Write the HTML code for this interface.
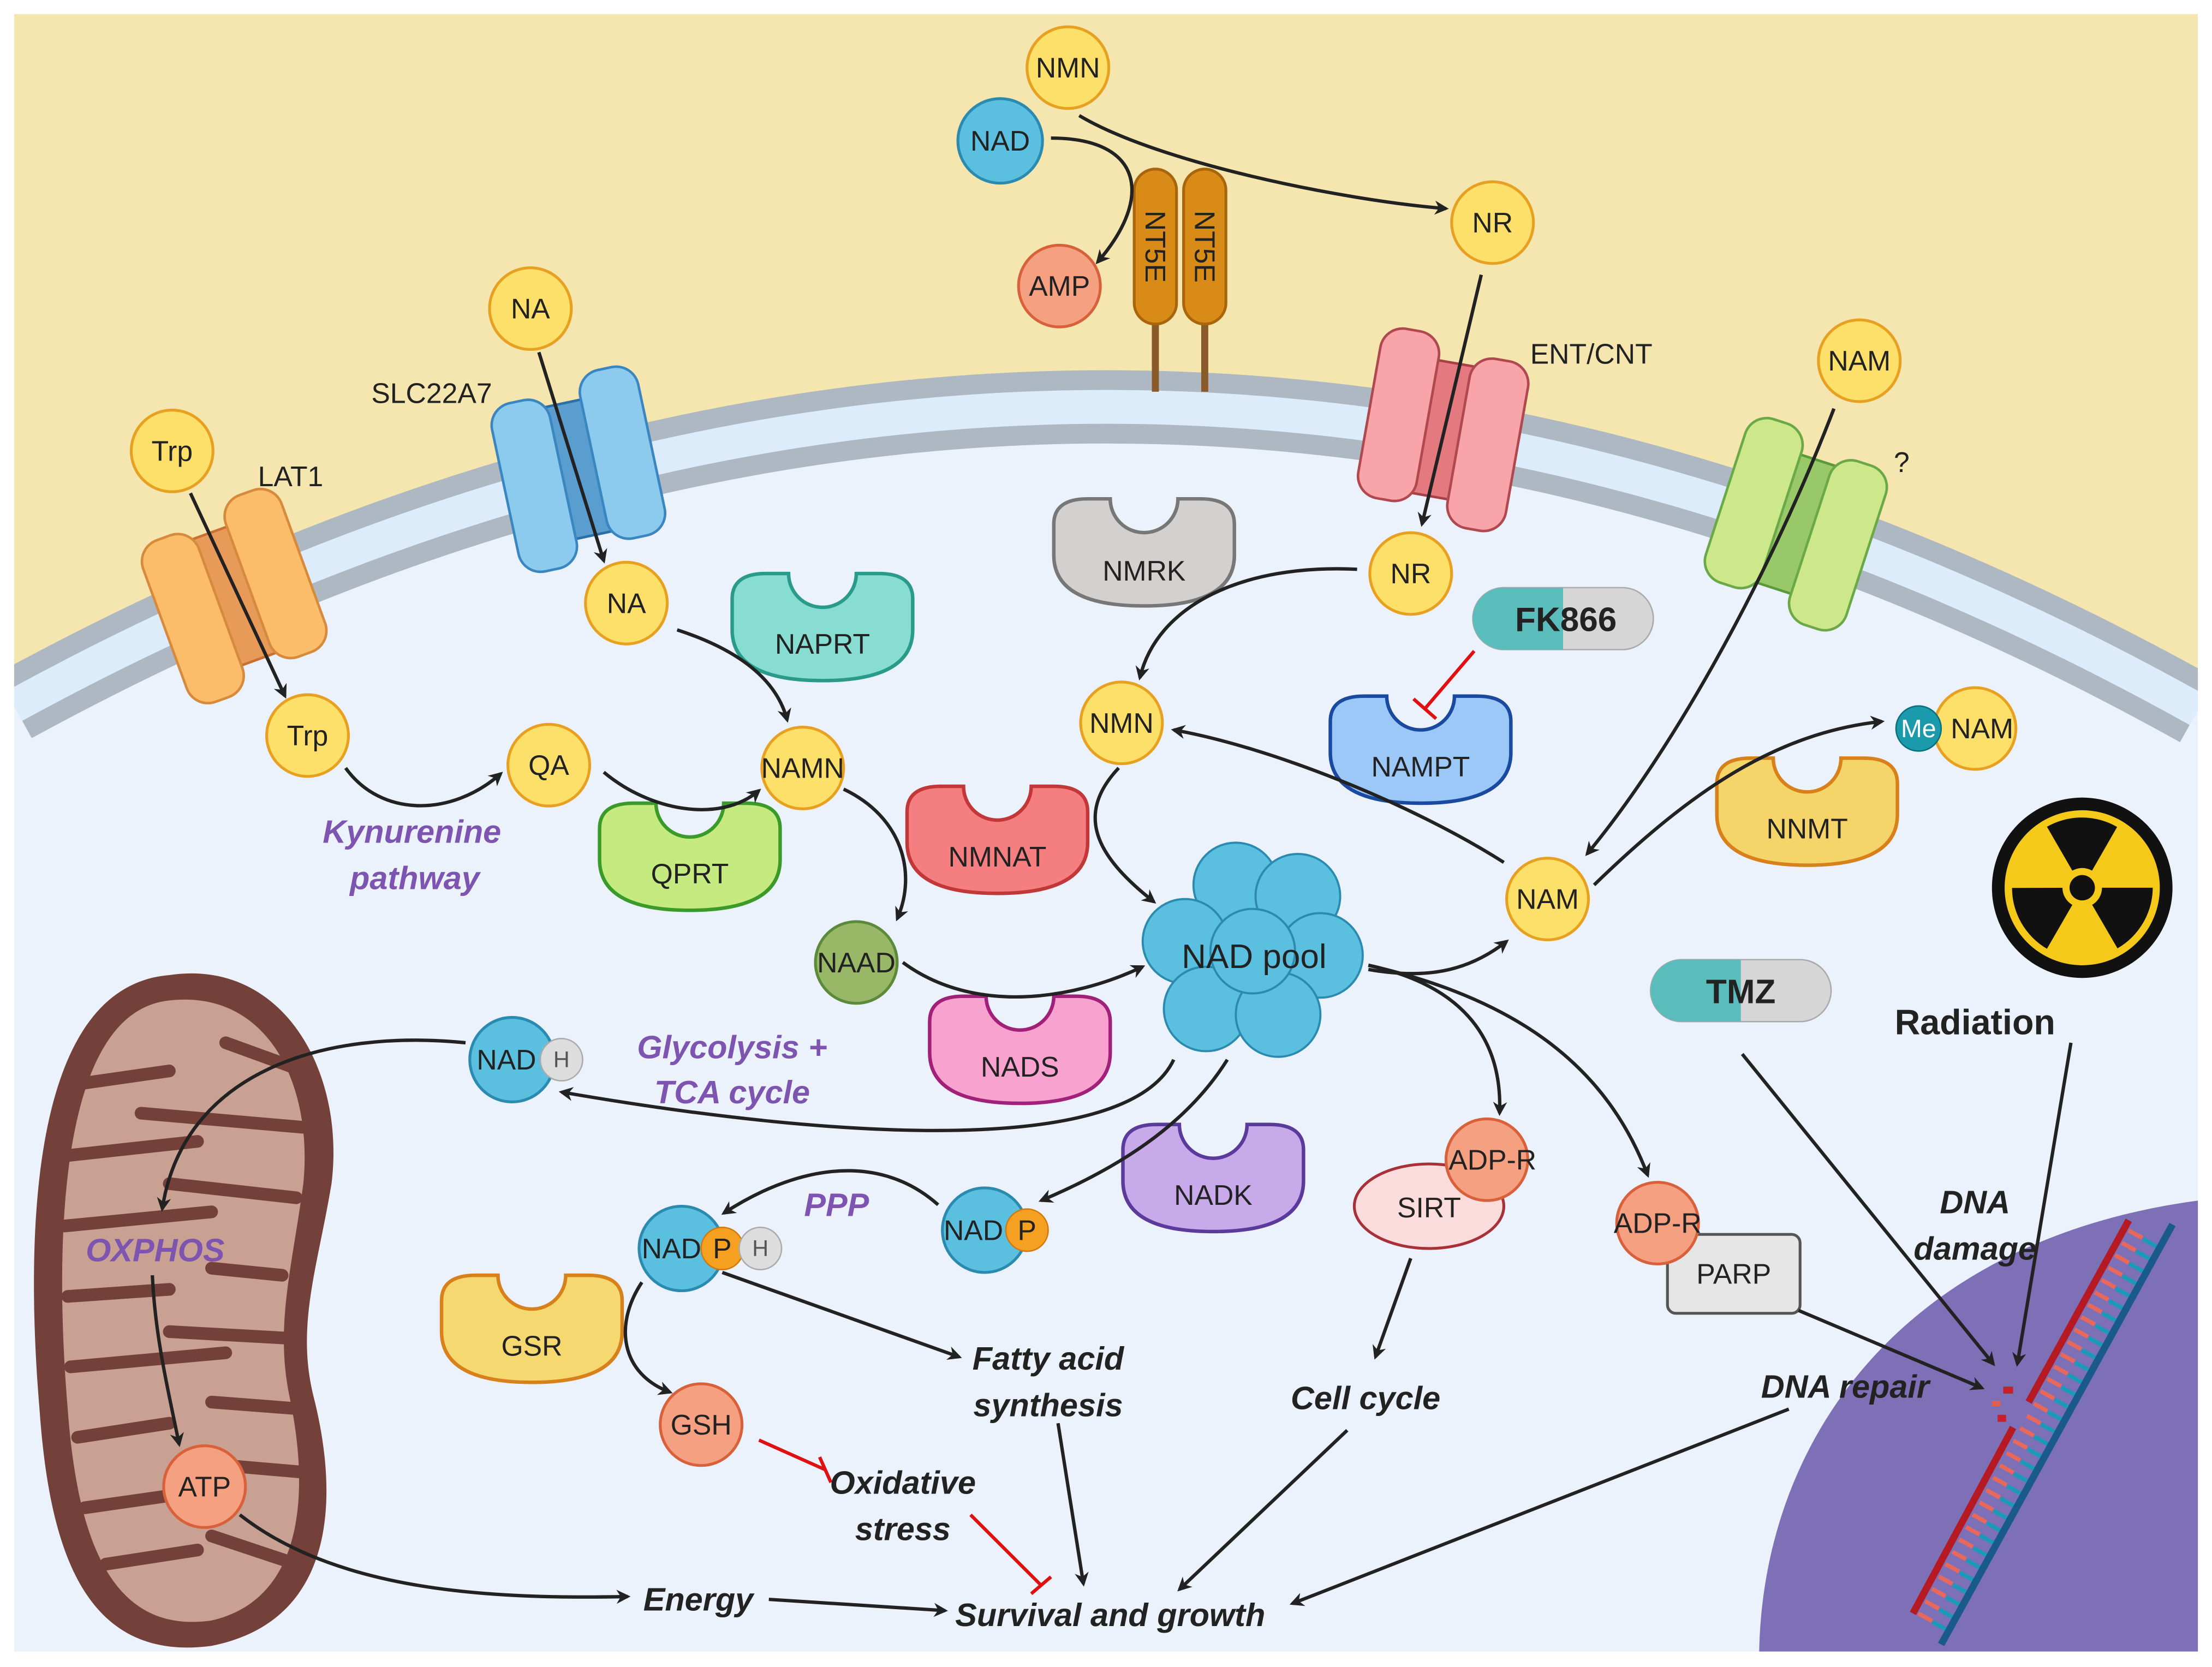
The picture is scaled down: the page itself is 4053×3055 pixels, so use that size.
<!DOCTYPE html>
<html><head><meta charset="utf-8"><style>
html,body{margin:0;padding:0;background:#fff;overflow:hidden;width:4053px;height:3055px}
svg{display:block}
text{font-family:"Liberation Sans",sans-serif}
.m{font-size:20px;text-anchor:middle;dominant-baseline:central;fill:#222}
.e{font-size:20px;text-anchor:middle;fill:#222}
.pu{font-size:23px;font-style:italic;font-weight:bold;fill:#7d55b0;text-anchor:middle}
.bk{font-size:23px;font-style:italic;font-weight:bold;fill:#222;text-anchor:middle}
.ar{fill:none;stroke:#222;stroke-width:2.4;marker-end:url(#ah)}
.in{fill:none;stroke:#e01010;stroke-width:2.4}
</style></head><body>
<svg width="4053" height="3055" viewBox="0 0 1568 1183" preserveAspectRatio="none" xmlns="http://www.w3.org/2000/svg">
<defs>
<marker id="ah" markerWidth="10" markerHeight="10" refX="8" refY="5" orient="auto" markerUnits="userSpaceOnUse"><path d="M0,0 L10,5 L0,10 L3,5 Z" fill="#222"/></marker>
<path id="cup" d="M-64,-20 Q-64,-38 -40,-38 L-24,-38 A24,24 0 0 0 24,-38 L40,-38 Q64,-38 64,-20 L64,2 Q64,38 0,38 Q-64,38 -64,2 Z"/>
</defs>
<rect x="0" y="0" width="1568" height="1183" fill="#fff"/>
<rect x="10" y="10" width="1548" height="1162" fill="#f4e6ae"/>
<path d="M10,501 Q790,75 1558,504 L1558,1172 L10,1172 Z" fill="#ecf2fb"/>
<path d="M10,501 Q790,75 1558,504" fill="none" stroke="#aeb8c2" stroke-width="52"/>
<path d="M10,501 Q790,75 1558,504" fill="none" stroke="#dcecfb" stroke-width="24"/>
<rect x="0" y="0" width="10" height="1183" fill="#fff"/><rect x="1558" y="0" width="10" height="1183" fill="#fff"/>
<!-- nucleus -->
<path d="M1247,1172 C1250,1020 1350,880 1558,852 L1558,1172 Z" fill="#7d70b6"/>
<!-- DNA -->
<line x1="1364" y1="1149" x2="1517" y2="870" stroke="#e8685c" stroke-width="11" stroke-dasharray="3,7"/>
<line x1="1374" y1="1155" x2="1527" y2="876" stroke="#1a9ab8" stroke-width="11" stroke-dasharray="3,7"/>
<line x1="1356" y1="1145" x2="1427" y2="1013" stroke="#b51a22" stroke-width="5"/>
<line x1="1438" y1="995" x2="1509" y2="866" stroke="#b51a22" stroke-width="5"/>
<line x1="1376" y1="1167" x2="1540" y2="869" stroke="#1a5a8a" stroke-width="5"/>
<rect x="1420" y="984" width="7" height="5" fill="#c8202a"/><rect x="1416" y="1004" width="6" height="5" fill="#c8202a"/><rect x="1412" y="994" width="6" height="4" fill="#e06050"/>
<!-- mitochondrion -->
<path d="M120,692 C200,680 245,760 235,840 C225,900 210,940 222,990 C240,1060 240,1150 150,1168 C60,1180 35,1100 28,1000 C18,880 20,700 120,692 Z" fill="#74413a"/>
<path d="M120,710 C190,702 222,770 215,840 C207,900 195,940 205,990 C220,1060 215,1135 150,1150 C80,1160 55,1095 48,1000 C38,880 42,718 120,710 Z" fill="#c9a193"/>
<g stroke="#74413a" stroke-width="9" stroke-linecap="round" fill="none">
<path d="M50,770 L120,760"/><path d="M160,740 L215,760"/><path d="M48,820 L140,810"/><path d="M100,790 L215,800"/>
<path d="M46,870 L150,860"/><path d="M120,840 L210,850"/><path d="M48,920 L120,915"/><path d="M150,900 L200,905"/>
<path d="M50,970 L160,960"/><path d="M120,945 L210,950"/><path d="M55,1020 L120,1010"/><path d="M150,995 L215,1000"/>
<path d="M60,1070 L130,1060"/><path d="M160,1040 L218,1045"/><path d="M75,1110 L140,1100"/><path d="M150,1090 L210,1110"/>
</g>
<!-- NT5E -->
<g fill="#d98b18" stroke="#a8650c" stroke-width="2">
<line x1="819" y1="200" x2="819" y2="278" stroke="#8a5a2a" stroke-width="5"/>
<line x1="854" y1="200" x2="854" y2="278" stroke="#8a5a2a" stroke-width="5"/>
<rect x="804" y="120" width="30" height="110" rx="15"/><rect x="839" y="120" width="30" height="110" rx="15"/>
</g>
<text x="819" y="175" transform="rotate(90 819 175)" class="m">NT5E</text>
<text x="854" y="175" transform="rotate(90 854 175)" class="m">NT5E</text>
<!-- transporters -->
<g transform="translate(166,423) rotate(-20)" stroke-width="1.8">
<rect x="-18" y="-48" width="36" height="96" fill="#e89a58" stroke="#c87030"/>
<rect x="-54" y="-56" width="42" height="122" rx="16" fill="#fbbd6a" stroke="#d88a3c"/>
<rect x="12" y="-66" width="42" height="122" rx="16" fill="#fbbd6a" stroke="#d88a3c"/></g>
<g transform="translate(410,333) rotate(-12)" stroke-width="1.8">
<rect x="-18" y="-48" width="36" height="96" fill="#5a9ed0" stroke="#2a70a8"/>
<rect x="-54" y="-56" width="42" height="122" rx="16" fill="#8ccaee" stroke="#3a86c0"/>
<rect x="12" y="-66" width="42" height="122" rx="16" fill="#8ccaee" stroke="#3a86c0"/></g>
<g transform="translate(1023,305) rotate(10)" stroke-width="1.8">
<rect x="-18" y="-48" width="36" height="96" fill="#e47a80" stroke="#a84048"/>
<rect x="-54" y="-66" width="42" height="122" rx="16" fill="#f8a4a8" stroke="#b04850"/>
<rect x="12" y="-56" width="42" height="122" rx="16" fill="#f8a4a8" stroke="#b04850"/></g>
<g transform="translate(1273,372) rotate(18)" stroke-width="1.8">
<rect x="-18" y="-48" width="36" height="96" fill="#98c868" stroke="#5a9a3a"/>
<rect x="-54" y="-66" width="42" height="122" rx="16" fill="#cce88a" stroke="#6aa848"/>
<rect x="12" y="-56" width="42" height="122" rx="16" fill="#cce88a" stroke="#6aa848"/></g>
<text x="206" y="345" class="e">LAT1</text><text x="306" y="286" class="e">SLC22A7</text>
<text x="1128" y="258" class="e">ENT/CNT</text><text x="1348" y="335" class="e">?</text>
<!-- enzymes -->
<g transform="translate(811,392)"><use href="#cup" fill="#d3d0d0" stroke="#777" stroke-width="2.5"/><text y="20" class="e">NMRK</text></g>
<g transform="translate(583,445)"><use href="#cup" fill="#88ddd2" stroke="#2a9a8a" stroke-width="2.5"/><text y="19" class="e">NAPRT</text></g>
<g transform="translate(489,608)"><use href="#cup" fill="#c5eb80" stroke="#3a9a2a" stroke-width="2.5"/><text y="19" class="e">QPRT</text></g>
<g transform="translate(707,596)"><use href="#cup" fill="#f57f80" stroke="#c23838" stroke-width="2.5"/><text y="19" class="e">NMNAT</text></g>
<g transform="translate(723,745)"><use href="#cup" fill="#f8a2cf" stroke="#a0207a" stroke-width="2.5"/><text y="19" class="e">NADS</text></g>
<g transform="translate(860,836)"><use href="#cup" fill="#c8aaea" stroke="#5a3a9a" stroke-width="2.5"/><text y="19" class="e">NADK</text></g>
<g transform="translate(1007,532)"><use href="#cup" fill="#9cc8f8" stroke="#1a4aa0" stroke-width="2.5"/><text y="19" class="e">NAMPT</text></g>
<g transform="translate(1281,576)"><use href="#cup" fill="#f5d46a" stroke="#d8801a" stroke-width="2.5"/><text y="19" class="e">NNMT</text></g>
<g transform="translate(377,943)"><use href="#cup" fill="#f5d870" stroke="#d8801a" stroke-width="2.5"/><text y="19" class="e">GSR</text></g>
<!-- SIRT, PARP -->
<ellipse cx="1013" cy="856" rx="53" ry="30" fill="#fbdcdc" stroke="#a83038" stroke-width="2"/>
<text x="1013" y="857" class="m">SIRT</text>
<rect x="1182" y="876" width="94" height="56" rx="6" fill="#e6e6e6" stroke="#555" stroke-width="2"/>
<text x="1229" y="904" class="m">PARP</text>
<!-- pills -->
<g><rect x="1044" y="417" width="128" height="44" rx="22" fill="#d6d6d6" stroke="#aaa"/><path d="M1066,417 L1108,417 L1108,461 L1066,461 A22,22 0 0 1 1066,417 Z" fill="#5bbcbc"/><text x="1110" y="440" class="m" style="font-weight:bold;font-size:24px">FK866</text></g>
<g><rect x="1170" y="681" width="128" height="44" rx="22" fill="#d6d6d6" stroke="#aaa"/><path d="M1192,681 L1234,681 L1234,725 L1192,725 A22,22 0 0 1 1192,681 Z" fill="#5bbcbc"/><text x="1234" y="704" class="m" style="font-weight:bold;font-size:24px">TMZ</text></g>
<!-- radiation -->
<circle cx="1476" cy="630" r="64" fill="#111"/><circle cx="1476" cy="630" r="55" fill="#f5c91a"/>
<g fill="#111"><path d="M1476,630 L1476,580 A50,50 0 0 1 1519,605 Z" transform="rotate(-30 1476 630)"/><path d="M1476,630 L1476,580 A50,50 0 0 1 1519,605 Z" transform="rotate(90 1476 630)"/><path d="M1476,630 L1476,580 A50,50 0 0 1 1519,605 Z" transform="rotate(210 1476 630)"/></g>
<circle cx="1476" cy="630" r="14" fill="#f5c91a"/><circle cx="1476" cy="630" r="9" fill="#111"/>
<text x="1400" y="734" style="font-size:25px;font-weight:bold;text-anchor:middle;fill:#222">Radiation</text>
<!-- NAD pool -->
<g fill="#5bc0e0" stroke="#2a8ab0" stroke-width="1.5">
<circle cx="876" cy="628" r="30"/><circle cx="920" cy="636" r="30"/><circle cx="840" cy="668" r="30"/><circle cx="936" cy="678" r="30"/>
<circle cx="855" cy="716" r="30"/><circle cx="906" cy="720" r="30"/><circle cx="888" cy="675" r="30"/>
</g>
<text x="889" y="679" class="m" style="font-size:24px">NAD pool</text>
<!-- arrows -->
<path class="ar" d="M745,98 C810,98 818,140 778,186"/>
<path class="ar" d="M765,82 C820,115 950,142 1025,148"/>
<path class="ar" d="M1050,195 L1008,372"/>
<path class="ar" d="M382,250 L428,398"/>
<path class="ar" d="M135,350 L202,494"/>
<path class="ar" d="M1300,290 C1250,420 1180,540 1125,606"/>
<path class="ar" d="M480,447 C520,460 550,480 558,511"/>
<path class="ar" d="M245,545 C270,580 320,580 355,549"/>
<path class="ar" d="M428,548 C460,575 510,585 538,561"/>
<path class="ar" d="M962,404 C880,400 820,430 808,481"/>
<path class="ar" d="M598,560 C640,580 650,620 636,652"/>
<path class="ar" d="M640,683 C690,720 760,710 810,686"/>
<path class="ar" d="M793,545 C760,580 780,610 818,640"/>
<path class="ar" d="M1066,612 C1000,570 900,530 832,518"/>
<path class="ar" d="M970,688 C1010,695 1040,690 1068,668"/>
<path class="ar" d="M1130,628 C1200,560 1260,520 1334,512"/>
<path class="ar" d="M970,685 C1040,700 1065,740 1063,790"/>
<path class="ar" d="M970,685 C1080,710 1140,760 1168,834"/>
<path class="ar" d="M832,752 C800,820 600,810 398,775"/>
<path class="ar" d="M870,752 C840,800 790,830 738,852"/>
<path class="ar" d="M665,855 C620,815 560,830 513,861"/>
<path class="ar" d="M330,740 C230,730 130,760 115,858"/>
<path class="ar" d="M108,905 C110,950 120,990 127,1025"/>
<path class="ar" d="M170,1075 C240,1130 350,1135 445,1133"/>
<path class="ar" d="M545,1135 L670,1143"/>
<path class="ar" d="M455,910 C435,940 440,975 475,988"/>
<path class="ar" d="M512,903 L680,963"/>
<path class="ar" d="M750,1010 L768,1124"/>
<path class="ar" d="M955,1015 L836,1128"/>
<path class="ar" d="M1268,1000 L916,1138"/>
<path class="ar" d="M1000,893 L975,963"/>
<path class="ar" d="M1275,930 L1405,985"/>
<path class="ar" d="M1235,748 L1413,968"/>
<path class="ar" d="M1468,740 L1430,968"/>
<path class="in" d="M1045,462 L1010,503 M1002,496 L1018,510"/>
<path class="in" d="M538,1022 L585,1043 M581,1034 L589,1052"/>
<path class="in" d="M688,1075 L738,1125 M731,1131 L745,1119"/>
<!-- metabolites -->
<g stroke="#e8a020" stroke-width="2" fill="#fde06a">
<circle cx="757" cy="48" r="29"/><circle cx="1058" cy="158" r="29"/><circle cx="376" cy="219" r="29"/><circle cx="122" cy="320" r="29"/>
<circle cx="1318" cy="256" r="29"/><circle cx="444" cy="428" r="29"/><circle cx="1000" cy="407" r="29"/><circle cx="218" cy="522" r="29"/>
<circle cx="389" cy="543" r="29"/><circle cx="569" cy="545" r="29"/><circle cx="795" cy="513" r="29"/><circle cx="1097" cy="638" r="29"/>
<circle cx="1400" cy="517" r="29"/>
</g>
<circle cx="607" cy="683" r="29" fill="#98b868" stroke="#5a8a3a" stroke-width="2"/>
<g fill="#f5a080" stroke="#d8603a" stroke-width="2">
<circle cx="751" cy="203" r="29"/><circle cx="497" cy="1011" r="29"/><circle cx="145" cy="1055" r="29"/><circle cx="1054" cy="823" r="29"/><circle cx="1175" cy="868" r="29"/>
</g>
<g fill="#5bc0e0" stroke="#2a8ab0" stroke-width="2">
<circle cx="709" cy="100" r="30"/><circle cx="363" cy="752" r="30"/><circle cx="698" cy="873" r="30"/><circle cx="483" cy="886" r="30"/>
</g>
<circle cx="398" cy="752" r="15" fill="#ddd" stroke="#aaa"/>
<circle cx="728" cy="873" r="15" fill="#f5a020" stroke="#d07a10"/>
<circle cx="512" cy="886" r="15" fill="#f5a020" stroke="#d07a10"/>
<circle cx="539" cy="886" r="15" fill="#ddd" stroke="#aaa"/>
<circle cx="1360" cy="517" r="16" fill="#1a9aaa" stroke="#0a7080"/>
<text x="757" y="48" class="m">NMN</text><text x="709" y="100" class="m">NAD</text><text x="751" y="203" class="m">AMP</text>
<text x="1058" y="158" class="m">NR</text><text x="376" y="219" class="m">NA</text><text x="122" y="320" class="m">Trp</text>
<text x="1318" y="256" class="m">NAM</text><text x="444" y="428" class="m">NA</text><text x="1000" y="407" class="m">NR</text>
<text x="218" y="522" class="m">Trp</text><text x="389" y="543" class="m">QA</text><text x="569" y="545" class="m">NAMN</text>
<text x="795" y="513" class="m">NMN</text><text x="1097" y="638" class="m">NAM</text><text x="1405" y="517" class="m">NAM</text>
<text x="1360" y="517" class="m" style="fill:#fff;font-size:18px">Me</text>
<text x="607" y="683" class="m">NAAD</text><text x="497" y="1011" class="m">GSH</text><text x="145" y="1055" class="m">ATP</text>
<text x="1058" y="823" class="m">ADP-R</text><text x="1175" y="868" class="m">ADP-R</text>
<text x="359" y="752" class="m">NAD</text><text x="398" y="752" class="m" style="font-size:16px;fill:#555">H</text>
<text x="690" y="873" class="m">NAD</text><text x="728" y="873" class="m">P</text>
<text x="476" y="886" class="m">NAD</text><text x="512" y="886" class="m">P</text><text x="539" y="886" class="m" style="font-size:16px;fill:#555">H</text>
<!-- labels -->
<text x="292" y="598" class="pu">Kynurenine</text><text x="294" y="631" class="pu">pathway</text>
<text x="519" y="751" class="pu">Glycolysis +</text><text x="519" y="783" class="pu">TCA cycle</text>
<text x="110" y="895" class="pu">OXPHOS</text><text x="593" y="863" class="pu">PPP</text>
<text x="743" y="972" class="bk">Fatty acid</text><text x="743" y="1005" class="bk">synthesis</text>
<text x="968" y="1000" class="bk">Cell cycle</text><text x="1308" y="992" class="bk">DNA repair</text>
<text x="640" y="1060" class="bk">Oxidative</text><text x="640" y="1093" class="bk">stress</text>
<text x="495" y="1143" class="bk">Energy</text><text x="787" y="1154" class="bk">Survival and growth</text>
<text x="1400" y="861" class="bk">DNA</text><text x="1400" y="894" class="bk">damage</text>
</svg>
</body></html>
